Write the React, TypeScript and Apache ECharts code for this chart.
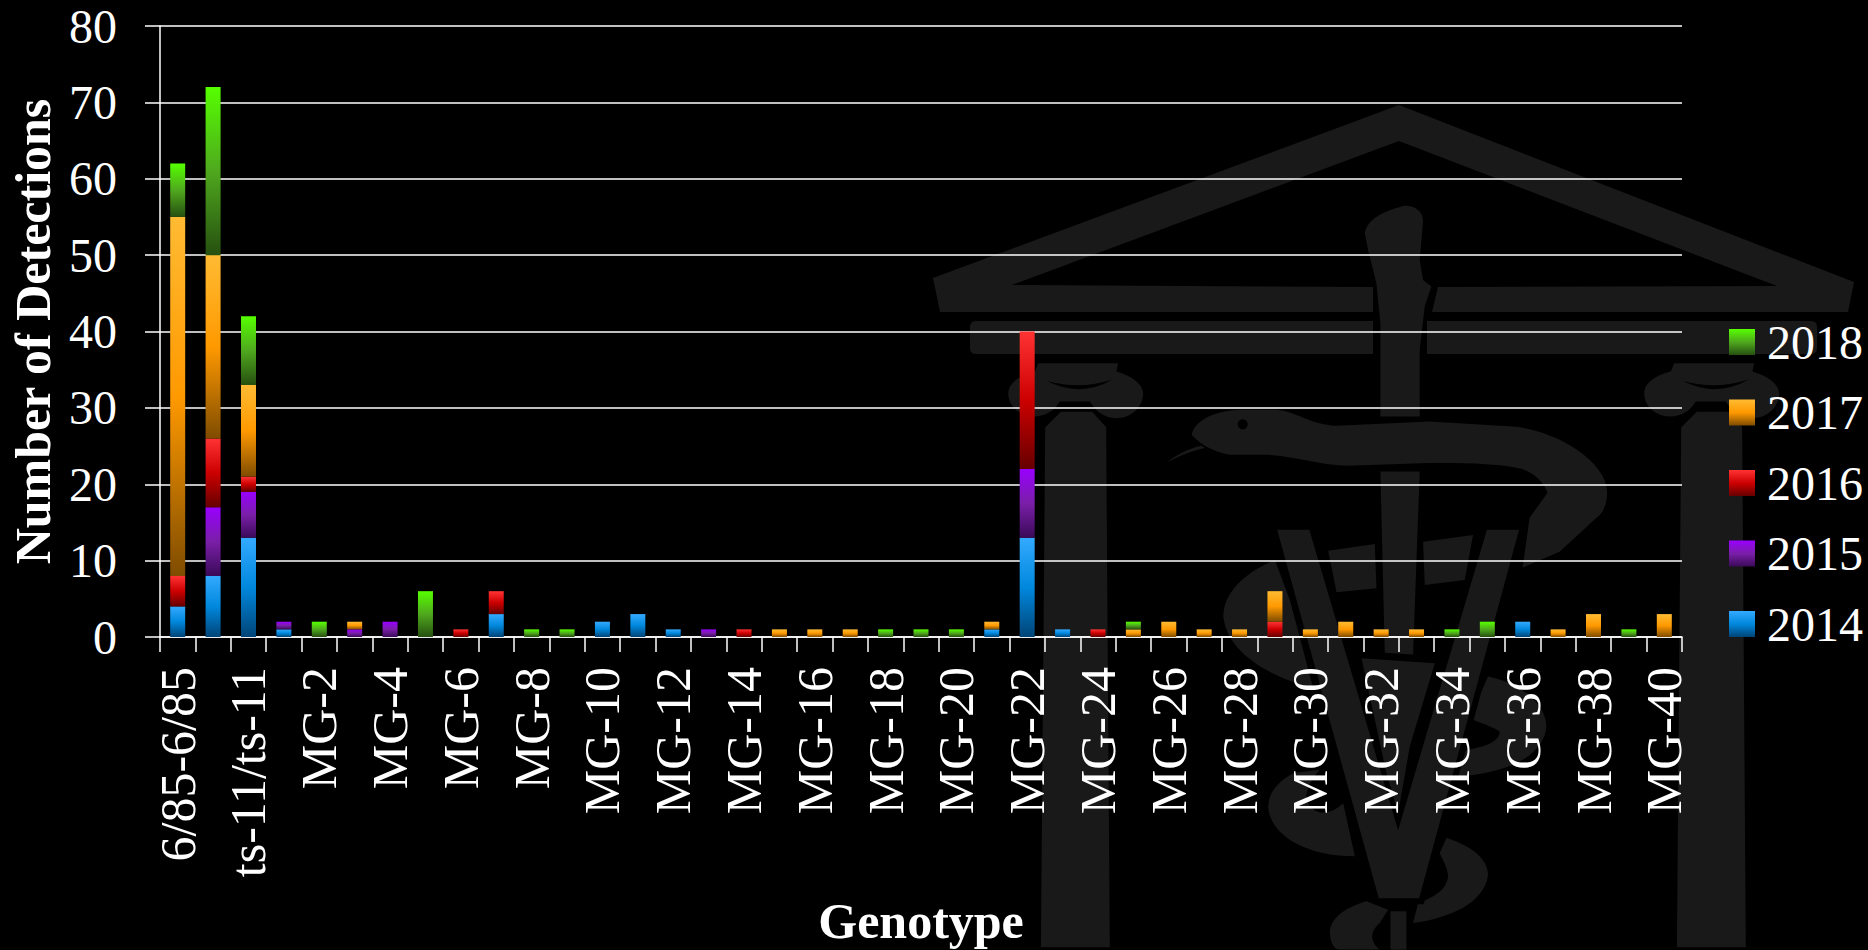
import React, { useEffect, useRef } from "react";
import * as echarts from "echarts";

const categories = [
  "6/85-6/85", "6/85-ts-11", "ts-11/ts-11",
  "MG-1", "MG-2", "MG-3", "MG-4", "MG-5", "MG-6", "MG-7", "MG-8", "MG-9", "MG-10",
  "MG-11", "MG-12", "MG-13", "MG-14", "MG-15", "MG-16", "MG-17", "MG-18", "MG-19", "MG-20",
  "MG-21", "MG-22", "MG-23", "MG-24", "MG-25", "MG-26", "MG-27", "MG-28", "MG-29", "MG-30",
  "MG-31", "MG-32", "MG-33", "MG-34", "MG-35", "MG-36", "MG-37", "MG-38", "MG-39", "MG-40",
];

const y2014 = [4, 8, 13, 1, 0, 0, 0, 0, 0, 3, 0, 0, 2, 3, 1, 0, 0, 0, 0, 0, 0, 0, 0, 1, 13, 1, 0, 0, 0, 0, 0, 0, 0, 0, 0, 0, 0, 0, 2, 0, 0, 0, 0];
const y2015 = [0, 9, 6, 1, 0, 1, 2, 0, 0, 0, 0, 0, 0, 0, 0, 1, 0, 0, 0, 0, 0, 0, 0, 0, 9, 0, 0, 0, 0, 0, 0, 0, 0, 0, 0, 0, 0, 0, 0, 0, 0, 0, 0];
const y2016 = [4, 9, 2, 0, 0, 0, 0, 0, 1, 3, 0, 0, 0, 0, 0, 0, 1, 0, 0, 0, 0, 0, 0, 0, 18, 0, 1, 0, 0, 0, 0, 2, 0, 0, 0, 0, 0, 0, 0, 0, 0, 0, 0];
const y2017 = [47, 24, 12, 0, 0, 1, 0, 0, 0, 0, 0, 0, 0, 0, 0, 0, 0, 1, 1, 1, 0, 0, 0, 1, 0, 0, 0, 1, 2, 1, 1, 4, 1, 2, 1, 1, 0, 0, 0, 1, 3, 0, 3];
const y2018 = [7, 22, 9, 0, 2, 0, 0, 6, 0, 0, 1, 1, 0, 0, 0, 0, 0, 0, 0, 0, 1, 1, 1, 0, 0, 0, 0, 1, 0, 0, 0, 0, 0, 0, 0, 0, 1, 2, 0, 0, 0, 1, 0];

const FONT = '"Liberation Serif", serif';
const WM = "#191919";

// Watermark outlines (each in the space of its origin, drawn at a scale of 1/3 or 1)
const wmShapes: { name: string; d: string; x: number; y: number; s: number; fill: string; stroke?: string; lw?: number }[] = [
  { name: "pedL", d: "M933,278 L1399,105 L1399,141 L1012,285 L1373,287 L1373,312 L940,312 Z", x: 0, y: 0, s: 1, fill: WM },
  { name: "pedR", d: "M1399,105 L1854,282 L1848,312 L1432,312 L1438,287 L1777,286 L1399,141 Z", x: 0, y: 0, s: 1, fill: WM },
  { name: "barL", d: "M976,321 L1373,321 L1373,354 L976,354 Q970,354 970,348 L970,327 Q970,321 976,321 Z", x: 0, y: 0, s: 1, fill: WM },
  { name: "barR", d: "M1427,321 L1811,321 Q1817,321 1817,327 L1817,348 Q1817,354 1811,354 L1427,354 Z", x: 0, y: 0, s: 1, fill: WM },
  // capitals and columns
  { name: "capL", d: "M355,340 L595,340 L590,365 C640,380 670,405 670,430 C670,475 630,505 590,505 C550,505 525,480 510,455 L420,455 C405,480 380,500 340,500 C300,498 265,470 265,430 C265,400 300,375 345,365 Z", x: 920, y: 250, s: 1 / 3, fill: WM },
  { name: "grvL", d: "M380,393 Q480,445 580,388 Q480,422 380,393 Z", x: 920, y: 250, s: 1 / 3, fill: "#000" },
  { name: "colL", d: "M420,480 L520,480 L565,530 L576,2100 L357,2100 L370,530 Z", x: 920, y: 250, s: 1 / 3, fill: WM, stroke: "#000", lw: 12 },
  { name: "capR", d: "M355,340 L595,340 L590,365 C640,380 670,405 670,430 C670,475 630,505 590,505 C550,505 525,480 510,455 L420,455 C405,480 380,500 340,500 C300,498 265,470 265,430 C265,400 300,375 345,365 Z", x: 1556, y: 250, s: 1 / 3, fill: WM },
  { name: "grvR", d: "M380,393 Q480,445 580,388 Q480,422 380,393 Z", x: 1556, y: 250, s: 1 / 3, fill: "#000" },
  { name: "colR", d: "M420,480 L520,480 L565,530 L576,2100 L357,2100 L370,530 Z", x: 1556, y: 250, s: 1 / 3, fill: WM, stroke: "#000", lw: 12 },
  // staff
  { name: "staffTop", d: "M705,130 C712,95 740,70 820,48 C850,45 880,60 880,95 L870,210 L880,270 L905,290 L885,350 L870,480 L870,680 L752,680 L752,400 L740,280 L715,180 Z", x: 1130, y: 190, s: 1 / 3, fill: WM },
  { name: "staffLow", d: "M752,845 L870,845 L850,1395 L765,1390 Z", x: 1130, y: 190, s: 1 / 3, fill: WM },
  // snake
  { name: "tongue", d: "M215,768 C170,778 140,795 112,818 C150,798 180,785 225,775 Z", x: 1130, y: 190, s: 1 / 3, fill: WM },
  { name: "snake", d: "M185,735 C195,690 260,660 340,660 L440,660 C500,665 540,705 620,708 L900,695 L1161,711 C1280,730 1380,790 1420,860 C1450,920 1420,975 1401,984 L1290,1086 L1179,1134 L1200,984 L1254,909 C1240,870 1200,840 1161,834 C1080,820 1000,820 900,820 L650,828 C560,825 480,795 400,795 L300,795 C270,790 220,775 185,735 Z", x: 1130, y: 190, s: 1 / 3, fill: WM },
  { name: "coilA", d: "M285,0 C190,40 130,100 130,170 C140,260 230,340 400,385 L330,120 Z", x: 1180, y: 560, s: 1 / 3, fill: WM },
  { name: "coilB", d: "M340,640 C290,670 265,700 265,745 C275,830 380,890 525,890 L490,730 C450,770 400,770 380,720 C375,690 400,650 420,630 Z", x: 1180, y: 560, s: 1 / 3, fill: WM },
  { name: "coilC", d: "M925,350 C1020,370 1100,430 1100,500 C1095,580 1000,640 830,650 L860,570 C930,560 960,540 960,515 C930,495 900,490 870,475 Z", x: 1180, y: 560, s: 1 / 3, fill: WM },
  { name: "coilD", d: "M800,835 C880,860 925,900 925,945 C915,1030 810,1075 700,1090 L715,1030 C770,1010 805,985 805,945 C800,915 785,895 780,880 Z", x: 1180, y: 560, s: 1 / 3, fill: WM },
  { name: "coilE", d: "M560,1025 C490,1045 450,1080 450,1120 C452,1150 462,1170 480,1170 L600,1170 C575,1150 565,1120 600,1090 L625,1050 Z", x: 1180, y: 560, s: 1 / 3, fill: WM },
  { name: "stem", d: "M632,1055 L680,1055 L680,1170 L632,1170 Z", x: 1180, y: 560, s: 1 / 3, fill: WM },
  // V
  { name: "vee", d: "M280,-100 L395,-100 L655,780 L915,-100 L1030,-100 L725,1025 L590,1025 Z", x: 1180, y: 560, s: 1 / 3, fill: WM, stroke: "#000", lw: 18 },
  { name: "inA", d: "M445,-28 L585,-48 L590,85 L470,97 Z", x: 1180, y: 560, s: 1 / 3, fill: WM },
  { name: "inB", d: "M730,-55 L880,-75 L855,60 L735,75 Z", x: 1180, y: 560, s: 1 / 3, fill: WM },
  { name: "inC", d: "M545,295 L765,310 L690,560 L655,760 L620,640 Z", x: 1180, y: 560, s: 1 / 3, fill: WM },
];

wmShapes.forEach((w) => {
  echarts.graphic.registerShape(w.name, echarts.graphic.extendPath(w.d, {}) as any);
});

function grad(top: string, mid: string, bottom: string) {
  return new echarts.graphic.LinearGradient(0, 0, 0, 1, [
    { offset: 0, color: top },
    { offset: 0.5, color: mid },
    { offset: 1, color: bottom },
  ]);
}

export default function App() {
  const ref = useRef<HTMLDivElement>(null);
  useEffect(() => {
    document.body.style.margin = "0";
    document.body.style.background = "#000";
    const chart = echarts.init(ref.current!, undefined, { renderer: "svg" });
    const mk = (name: string, data: number[], color: any) => ({
      name,
      type: "bar",
      stack: "total",
      barWidth: 15,
      data: data.map((v) => (v ? v : null)),
      itemStyle: { color },
    });
    chart.setOption({
      animation: false,
      backgroundColor: "#000",
      graphic: {
        elements: [
          ...wmShapes.map((w, i) => ({
            type: w.name,
            x: w.x,
            y: w.y,
            scaleX: w.s,
            scaleY: w.s,
            z: -5,
            z2: i,
            silent: true,
            style: { fill: w.fill, stroke: w.stroke || null, lineWidth: w.lw || 0 },
          })),
          { type: "circle", z: -5, z2: 100, silent: true, shape: { cx: 1242.7, cy: 424.3, r: 5 }, style: { fill: "#000" } },
        ],
      },
      grid: { left: 160, right: 186, top: 26, height: 611, outerBoundsMode: "none" },
      legend: {
        orient: "vertical",
        left: 1729,
        top: 318,
        padding: 0,
        itemWidth: 26,
        itemHeight: 26,
        itemGap: 22.5,
        icon: "rect",
        selectedMode: false,
        data: ["2018", "2017", "2016", "2015", "2014"],
        textStyle: { color: "#fff", fontFamily: FONT, fontSize: 48, padding: [0, 0, 0, 7] },
      },
      xAxis: {
        type: "category",
        data: categories,
        name: "Genotype",
        nameLocation: "middle",
        nameGap: 259,
        nameTextStyle: { color: "#fff", fontFamily: FONT, fontSize: 50, fontWeight: "bold" },
        axisLine: { lineStyle: { color: "#fff", width: 1.5 } },
        axisTick: { show: true, interval: 0, length: 15, lineStyle: { color: "#fff", width: 1.5 } },
        axisLabel: { interval: 1, rotate: 90, color: "#fff", fontFamily: FONT, fontSize: 50, margin: 30 },
        splitLine: { show: false },
      },
      yAxis: {
        type: "value",
        min: 0,
        max: 80,
        interval: 10,
        name: "Number of Detections",
        nameLocation: "middle",
        nameRotate: 90,
        nameGap: 100,
        nameTextStyle: { color: "#fff", fontFamily: FONT, fontSize: 50, fontWeight: "bold" },
        axisLine: { show: true, lineStyle: { color: "#fff", width: 1.5 } },
        axisTick: { show: true, length: 15, lineStyle: { color: "#fff", width: 1.5 } },
        axisLabel: { color: "#fff", fontFamily: FONT, fontSize: 48, margin: 43 },
        splitLine: { show: true, lineStyle: { color: "#fff", width: 1.5 } },
      },
      series: [
        mk("2014", y2014, grad("#33aaff", "#0088dd", "#004477")),
        mk("2015", y2015, grad("#9900ff", "#7a1fa8", "#3a0a58")),
        mk("2016", y2016, grad("#ff3333", "#cc0000", "#660000")),
        mk("2017", y2017, grad("#ffbb33", "#ff9900", "#7f4c00")),
        mk("2018", y2018, grad("#55ff00", "#4fa81e", "#265010")),
      ],
    });
    return () => chart.dispose();
  }, []);
  return <div ref={ref} style={{ width: 1868, height: 950 }} />;
}
